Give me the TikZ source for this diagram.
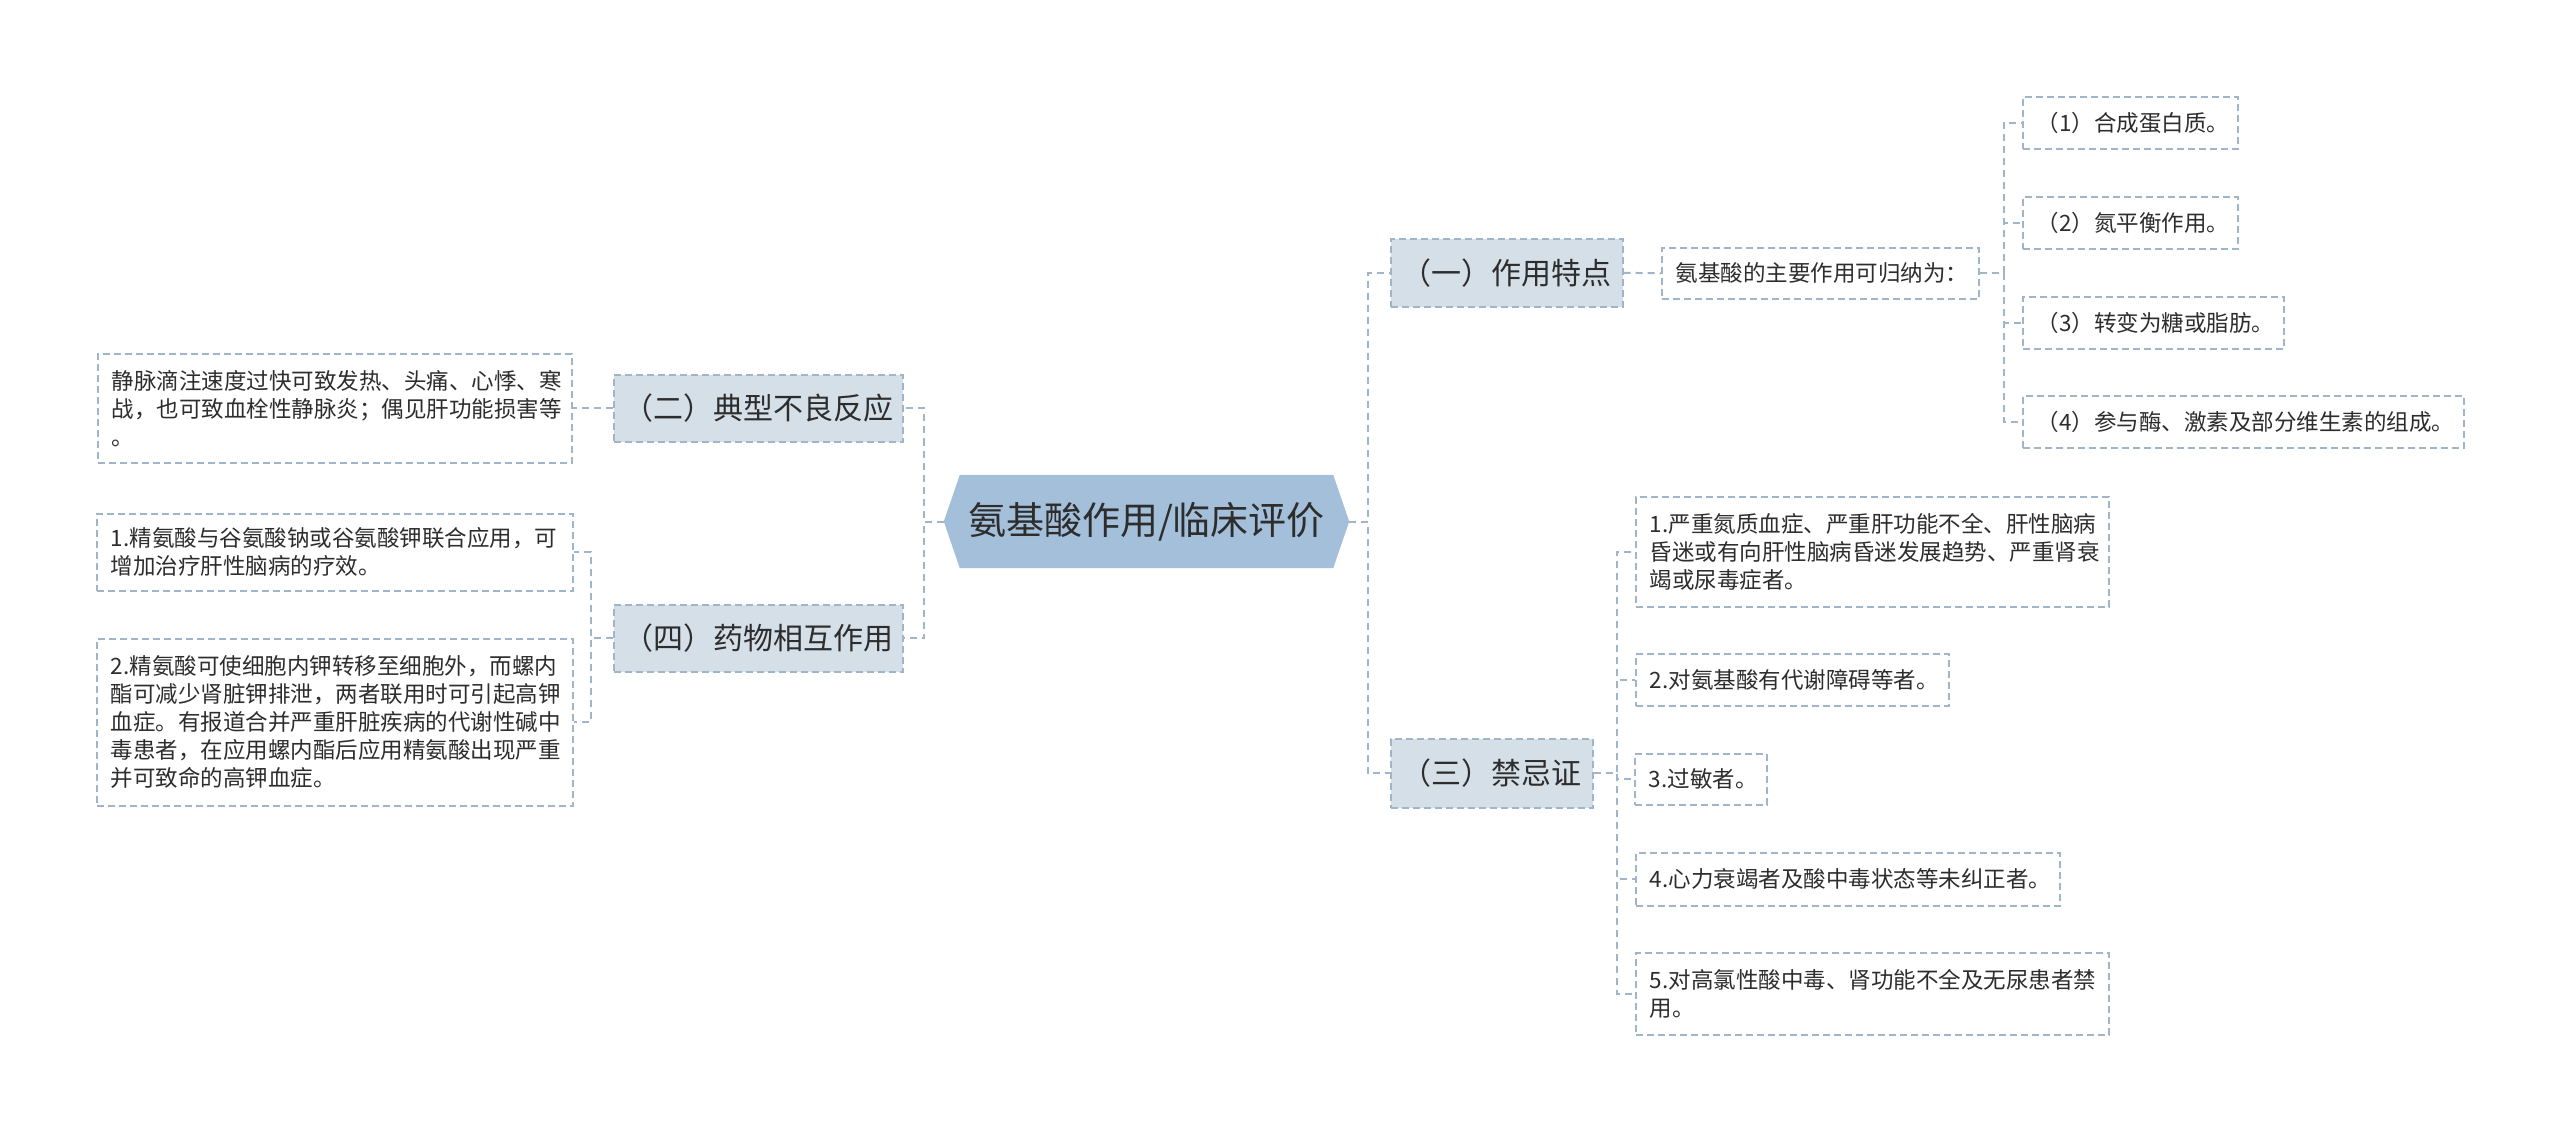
\documentclass[tikz,border=0pt]{standalone}
\usepackage{fontspec}
\newfontfamily\cjk{Noto Sans CJK SC}
\usetikzlibrary{backgrounds}
\definecolor{rootfill}{RGB}{163,191,218}
\definecolor{branchfill}{RGB}{212,223,232}
\definecolor{edgecol}{RGB}{160,182,200}
\definecolor{txt}{RGB}{45,45,45}
\begin{document}
\begin{tikzpicture}[x=1pt,y=-1pt,
  conn/.style={draw=edgecol, line width=2pt, dash pattern=on 7pt off 5pt},
  rootnode/.style={font=\cjk\fontsize{38}{44}\selectfont, text=txt, inner sep=0pt, minimum width=373pt, minimum height=93pt},
  branch/.style={draw=edgecol, line width=1.6pt, dash pattern=on 7pt off 4pt, fill=branchfill, font=\cjk\fontsize{30}{36}\selectfont, text=txt, inner sep=0pt, anchor=north west},
  leaf/.style={draw=edgecol, line width=1.6pt, dash pattern=on 7pt off 4pt, fill=white, font=\cjk\fontsize{22.5}{28}\selectfont, text=txt, inner xsep=14pt, inner ysep=0pt, align=left, anchor=north west},
]
\useasboundingbox (0,0) rectangle (2560,1131);
\begin{scope}[on background layer]
  \fill[white] (0,0) rectangle (2560,1131);
\end{scope}

% root
\node[rootnode] (root) at (1146.5,521.5) {氨基酸作用/临床评价};
\coordinate (rootE) at ([xshift=16pt]root.east);
\coordinate (rootW) at ([xshift=-16pt]root.west);
\begin{scope}[on background layer]
  \fill[rootfill] (rootW) -- (root.north west) -- (root.north east) -- (rootE) -- (root.south east) -- (root.south west) -- cycle;
\end{scope}

% branches
\node[branch, minimum width=232pt, minimum height=68pt] (b1) at (1390,238) {（一）作用特点};
\node[branch, minimum width=202pt, minimum height=69pt] (b3) at (1390,738) {（三）禁忌证};
\node[branch, minimum width=289pt, minimum height=67pt] (b2) at (613,374) {（二）典型不良反应};
\node[branch, minimum width=289pt, minimum height=67pt] (b4) at (613,604) {（四）药物相互作用};

% (一) leaves
\node[leaf, text width=289pt, minimum height=51pt] (a0) at (1661,247) {氨基酸的主要作用可归纳为：};
\node[leaf, text width=187pt, minimum height=52pt] (a1) at (2022,96) {（1）合成蛋白质。};
\node[leaf, text width=187pt, minimum height=52pt] (a2) at (2022,196) {（2）氮平衡作用。};
\node[leaf, text width=233pt, minimum height=52pt] (a3) at (2022,296) {（3）转变为糖或脂肪。};
\node[leaf, text width=413pt, minimum height=52pt] (a4) at (2022,395) {（4）参与酶、激素及部分维生素的组成。};

% (三) leaves
\node[leaf, text width=445pt, minimum height=110pt] (c1) at (1635,496) {1.严重氮质血症、严重肝功能不全、肝性脑病\\昏迷或有向肝性脑病昏迷发展趋势、严重肾衰\\竭或尿毒症者。};
\node[leaf, text width=285pt, minimum height=52pt] (c2) at (1635,653) {2.对氨基酸有代谢障碍等者。};
\node[leaf, text width=104pt, minimum height=51pt] (c3) at (1634,753) {3.过敏者。};
\node[leaf, text width=396pt, minimum height=53pt] (c4) at (1635,852) {4.心力衰竭者及酸中毒状态等未纠正者。};
\node[leaf, text width=445pt, minimum height=82pt] (c5) at (1635,952) {5.对高氯性酸中毒、肾功能不全及无尿患者禁\\用。};

% left leaves
\node[leaf, text width=446pt, minimum height=109pt] (l1) at (97,353) {静脉滴注速度过快可致发热、头痛、心悸、寒\\战，也可致血栓性静脉炎；偶见肝功能损害等\\。};
\node[leaf, text width=448pt, minimum height=77pt] (l2) at (96,513) {1.精氨酸与谷氨酸钠或谷氨酸钾联合应用，可\\增加治疗肝性脑病的疗效。};
\node[leaf, text width=448pt, minimum height=167pt] (l3) at (96,638) {2.精氨酸可使细胞内钾转移至细胞外，而螺内\\酯可减少肾脏钾排泄，两者联用时可引起高钾\\血症。有报道合并严重肝脏疾病的代谢性碱中\\毒患者，在应用螺内酯后应用精氨酸出现严重\\并可致命的高钾血症。};

% connectors
\begin{scope}[on background layer]
\draw[conn] (rootE) -- ++(19,0) |- (b1.west);
\draw[conn] (rootE) -- ++(19,0) |- (b3.west);
\draw[conn] (rootW) -- ++(-20,0) |- (b2.east);
\draw[conn] (rootW) -- ++(-20,0) |- (b4.east);
\draw[conn] (b1.east) -- (a0.west);
\foreach \n in {a1,a2,a3,a4} \draw[conn] (a0.east) -- ++(24,0) |- (\n.west);
\foreach \n in {c1,c2,c3,c4,c5} \draw[conn] (b3.east) -- ++(23,0) |- (\n.west);
\draw[conn] (b2.west) -- (l1.east);
\foreach \n in {l2,l3} \draw[conn] (b4.west) -- ++(-22,0) |- (\n.east);
\end{scope}
\end{tikzpicture}
\end{document}
